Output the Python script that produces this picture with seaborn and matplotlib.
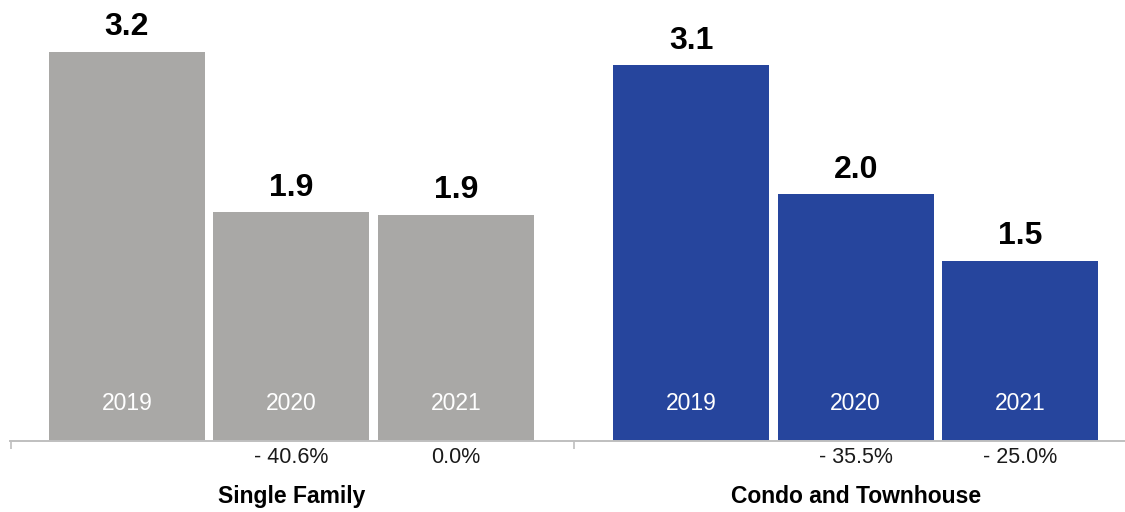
import pandas as pd
import matplotlib.pyplot as plt
import matplotlib.transforms as mtransforms
import seaborn as sns

# values (bar heights), grouped by home type
groups = ['Single Family', 'Condo and Townhouse']
years = ['2019', '2020', '2021']
single_family = [3.2, 1.88, 1.86]
condo_townhouse = [3.09, 2.03, 1.48]
pct_change = [['', '- 40.6%', '0.0%'], ['', '- 35.5%', '- 25.0%']]

colors = {'Single Family': '#A9A8A6', 'Condo and Townhouse': '#26459D'}
group_gap = 3.43  # distance between first bars of the two groups, in bar steps


def buildFrame():
    rows = []
    for g, vals in enumerate([single_family, condo_townhouse]):
        for i, v in enumerate(vals):
            rows.append({'group': groups[g], 'year': years[i],
                         'pos': g * group_gap + i, 'value': v,
                         'pct': pct_change[g][i]})
    return pd.DataFrame(rows)


df = buildFrame()

sns.set_style('white')
plt.rcParams['font.family'] = ['Liberation Sans', 'DejaVu Sans']

fig = plt.figure(figsize=(11.25, 5.12), dpi=100)
ax = fig.add_axes([10 / 1125, 71 / 512, 1115 / 1125, 441 / 512])

sns.barplot(data=df, x='pos', y='value', hue='group', palette=colors,
            native_scale=True, dodge=False, width=0.948, saturation=1,
            linewidth=0, legend=False, ax=ax)

ax.set_xlim(-0.711, 6.067)
ax.set_ylim(0, 3.628)

for s in ['left', 'right', 'top']:
    ax.spines[s].set_visible(False)
ax.spines['bottom'].set_color('#BFBFBF')
ax.spines['bottom'].set_linewidth(1.4)

mid = (2 + group_gap) / 2
ax.set_xticks([-0.705, mid])
ax.set_xticklabels([])
ax.tick_params(axis='x', bottom=True, direction='out', length=6, width=1.2,
               color='#BFBFBF')
ax.set_yticks([])
ax.set_xlabel('')
ax.set_ylabel('')

below = mtransforms.blended_transform_factory(ax.transData, ax.transAxes)

for _, r in df.iterrows():
    ax.annotate(f"{r['value']:.1f}", (r['pos'], r['value']), xytext=(0, 12),
                textcoords='offset points', ha='center', va='baseline',
                fontsize=23, fontweight='bold', color='black')
    ax.text(r['pos'], 0.305, r['year'], ha='center', va='center',
            fontsize=16.5, color='white')
    if r['pct']:
        ax.text(r['pos'], -0.038, r['pct'], ha='center', va='center',
                fontsize=15.5, color='#1A1A1A', transform=below)

for g, name in enumerate(groups):
    ax.text(g * group_gap + 1, -0.125, name, ha='center', va='center',
            fontsize=16.5, fontweight='bold', color='black', transform=below)

plt.savefig('out.png', format='png')
